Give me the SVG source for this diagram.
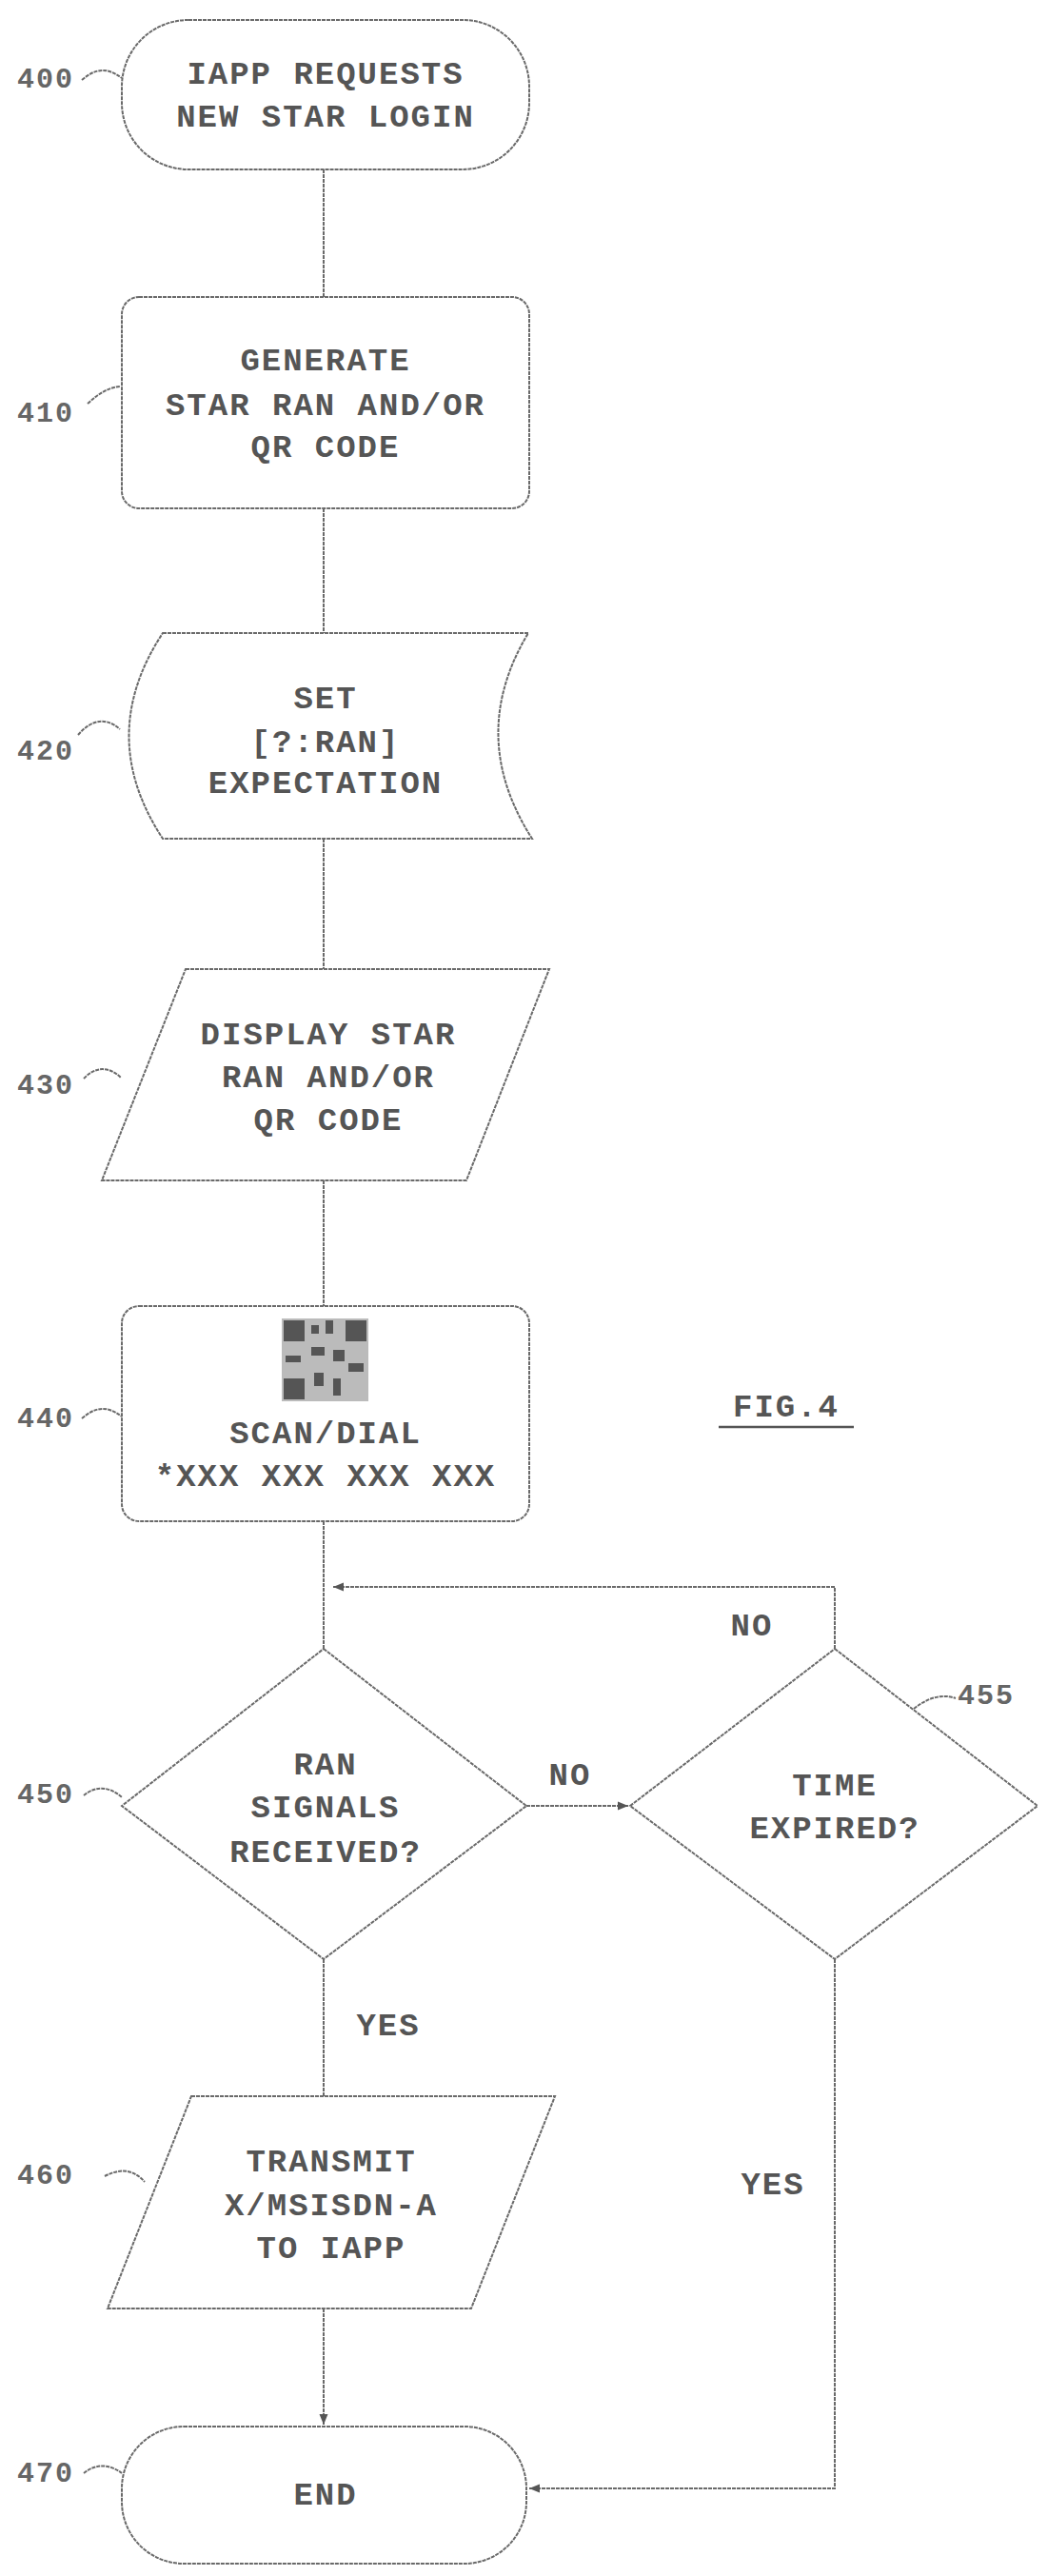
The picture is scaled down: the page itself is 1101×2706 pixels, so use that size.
<svg xmlns="http://www.w3.org/2000/svg" width="1101" height="2706" viewBox="0 0 1101 2706">
<style>
.s{fill:none;stroke:#6a6a6a;stroke-width:2;stroke-dasharray:4 1}
.t{font-family:"Liberation Mono",monospace;font-size:34px;font-weight:bold;fill:#555;letter-spacing:2px;text-anchor:middle}
.l{font-family:"Liberation Mono",monospace;font-size:30px;font-weight:bold;fill:#666;letter-spacing:2px}
.q{fill:#555}
</style>
<defs>
<marker id="a" markerWidth="12" markerHeight="12" refX="11" refY="6" orient="auto" markerUnits="userSpaceOnUse"><path d="M0,1.5 L11,6 L0,10.5 Z" fill="#555"/></marker>
</defs>
<rect width="1101" height="2706" fill="#fff"/>
<g id="connectors">
<path class="s" d="M340,178 V312 M340,534 V665 M340,881 V1018 M340,1240 V1372 M340,1598 V1732"/>
<path class="s" d="M553,1897 H660" marker-end="url(#a)"/>
<path class="s" d="M877,1732 V1667 H350" marker-end="url(#a)"/>
<path class="s" d="M340,2058 V2202"/>
<path class="s" d="M340,2425 V2547" marker-end="url(#a)"/>
<path class="s" d="M877,2058 V2614 H556" marker-end="url(#a)"/>
<text class="t" x="599" y="1875">NO</text>
<text class="t" x="790" y="1718">NO</text>
<text class="t" x="408" y="2138">YES</text>
<text class="t" x="812" y="2305">YES</text>
</g>
<g id="n400">
<rect class="s" x="128" y="21" width="428" height="157" rx="70"/>
<text class="t" x="342" y="88">IAPP REQUESTS</text>
<text class="t" x="342" y="133">NEW STAR LOGIN</text>
<text class="l" x="18" y="92">400</text>
<path class="s" d="M86,84 C100,72 112,70 128,82"/>
</g>
<g id="n410">
<rect class="s" x="128" y="312" width="428" height="222" rx="18"/>
<text class="t" x="342" y="389">GENERATE</text>
<text class="t" x="342" y="436">STAR RAN AND/OR</text>
<text class="t" x="342" y="480">QR CODE</text>
<text class="l" x="18" y="443">410</text>
<path class="s" d="M92,424 C105,412 115,407 126,406"/>
</g>
<g id="n420">
<path class="s" d="M171,665 H555 Q490,773 559,881 H171 Q100,773 171,665 Z"/>
<text class="t" x="342" y="744">SET</text>
<text class="t" x="342" y="790">[?:RAN]</text>
<text class="t" x="342" y="833">EXPECTATION</text>
<text class="l" x="18" y="798">420</text>
<path class="s" d="M82,772 C95,757 110,752 126,766"/>
</g>
<g id="n430">
<path class="s" d="M195,1018 H577 L490,1240 H107 Z"/>
<text class="t" x="345" y="1097">DISPLAY STAR</text>
<text class="t" x="345" y="1142">RAN AND/OR</text>
<text class="t" x="345" y="1187">QR CODE</text>
<text class="l" x="18" y="1149">430</text>
<path class="s" d="M88,1133 C100,1120 115,1120 127,1132"/>
</g>
<g id="n440">
<rect class="s" x="128" y="1372" width="428" height="226" rx="18"/>
<g class="q">
<rect x="296" y="1385" width="91" height="87" fill="#bbb"/>
<rect x="298" y="1387" width="22" height="22"/><rect x="363" y="1387" width="22" height="22"/><rect x="298" y="1448" width="22" height="22"/>
<rect x="327" y="1392" width="8" height="9"/><rect x="342" y="1387" width="8" height="14"/><rect x="327" y="1415" width="14" height="9"/>
<rect x="350" y="1418" width="12" height="12"/><rect x="330" y="1442" width="10" height="14"/><rect x="350" y="1448" width="8" height="18"/><rect x="366" y="1432" width="16" height="9"/><rect x="300" y="1424" width="16" height="7"/>
</g>
<text class="t" x="342" y="1516">SCAN/DIAL</text>
<text class="t" x="342" y="1561">*XXX XXX XXX XXX</text>
<text class="l" x="18" y="1499">440</text>
<path class="s" d="M86,1490 C100,1478 112,1476 128,1488"/>
</g>
<g id="n450">
<path class="s" d="M340,1732 L553,1897 L340,2058 L128,1897 Z"/>
<text class="t" x="342" y="1864">RAN</text>
<text class="t" x="342" y="1909">SIGNALS</text>
<text class="t" x="342" y="1956">RECEIVED?</text>
<text class="l" x="18" y="1894">450</text>
<path class="s" d="M88,1886 C100,1876 115,1876 128,1888"/>
</g>
<g id="n455">
<path class="s" d="M877,1732 L1090,1897 L877,2058 L662,1897 Z"/>
<text class="t" x="877" y="1886">TIME</text>
<text class="t" x="877" y="1931">EXPIRED?</text>
<text class="l" x="1006" y="1790">455</text>
<path class="s" d="M960,1795 C975,1783 990,1779 1004,1784"/>
</g>
<g id="n460">
<path class="s" d="M201,2202 H583 L495,2425 H113 Z"/>
<text class="t" x="348" y="2281">TRANSMIT</text>
<text class="t" x="348" y="2327">X/MSISDN-A</text>
<text class="t" x="348" y="2372">TO IAPP</text>
<text class="l" x="18" y="2294">460</text>
<path class="s" d="M110,2286 C125,2278 140,2278 152,2292"/>
</g>
<g id="n470">
<rect class="s" x="128" y="2549" width="425" height="144" rx="65"/>
<text class="t" x="342" y="2631">END</text>
<text class="l" x="18" y="2607">470</text>
<path class="s" d="M88,2598 C100,2588 115,2588 128,2598"/>
</g>
<g id="fig">
<text class="t" x="826" y="1488">FIG.4</text>
<path d="M755,1499 H897" stroke="#555" stroke-width="2.5"/>
</g>
</svg>
